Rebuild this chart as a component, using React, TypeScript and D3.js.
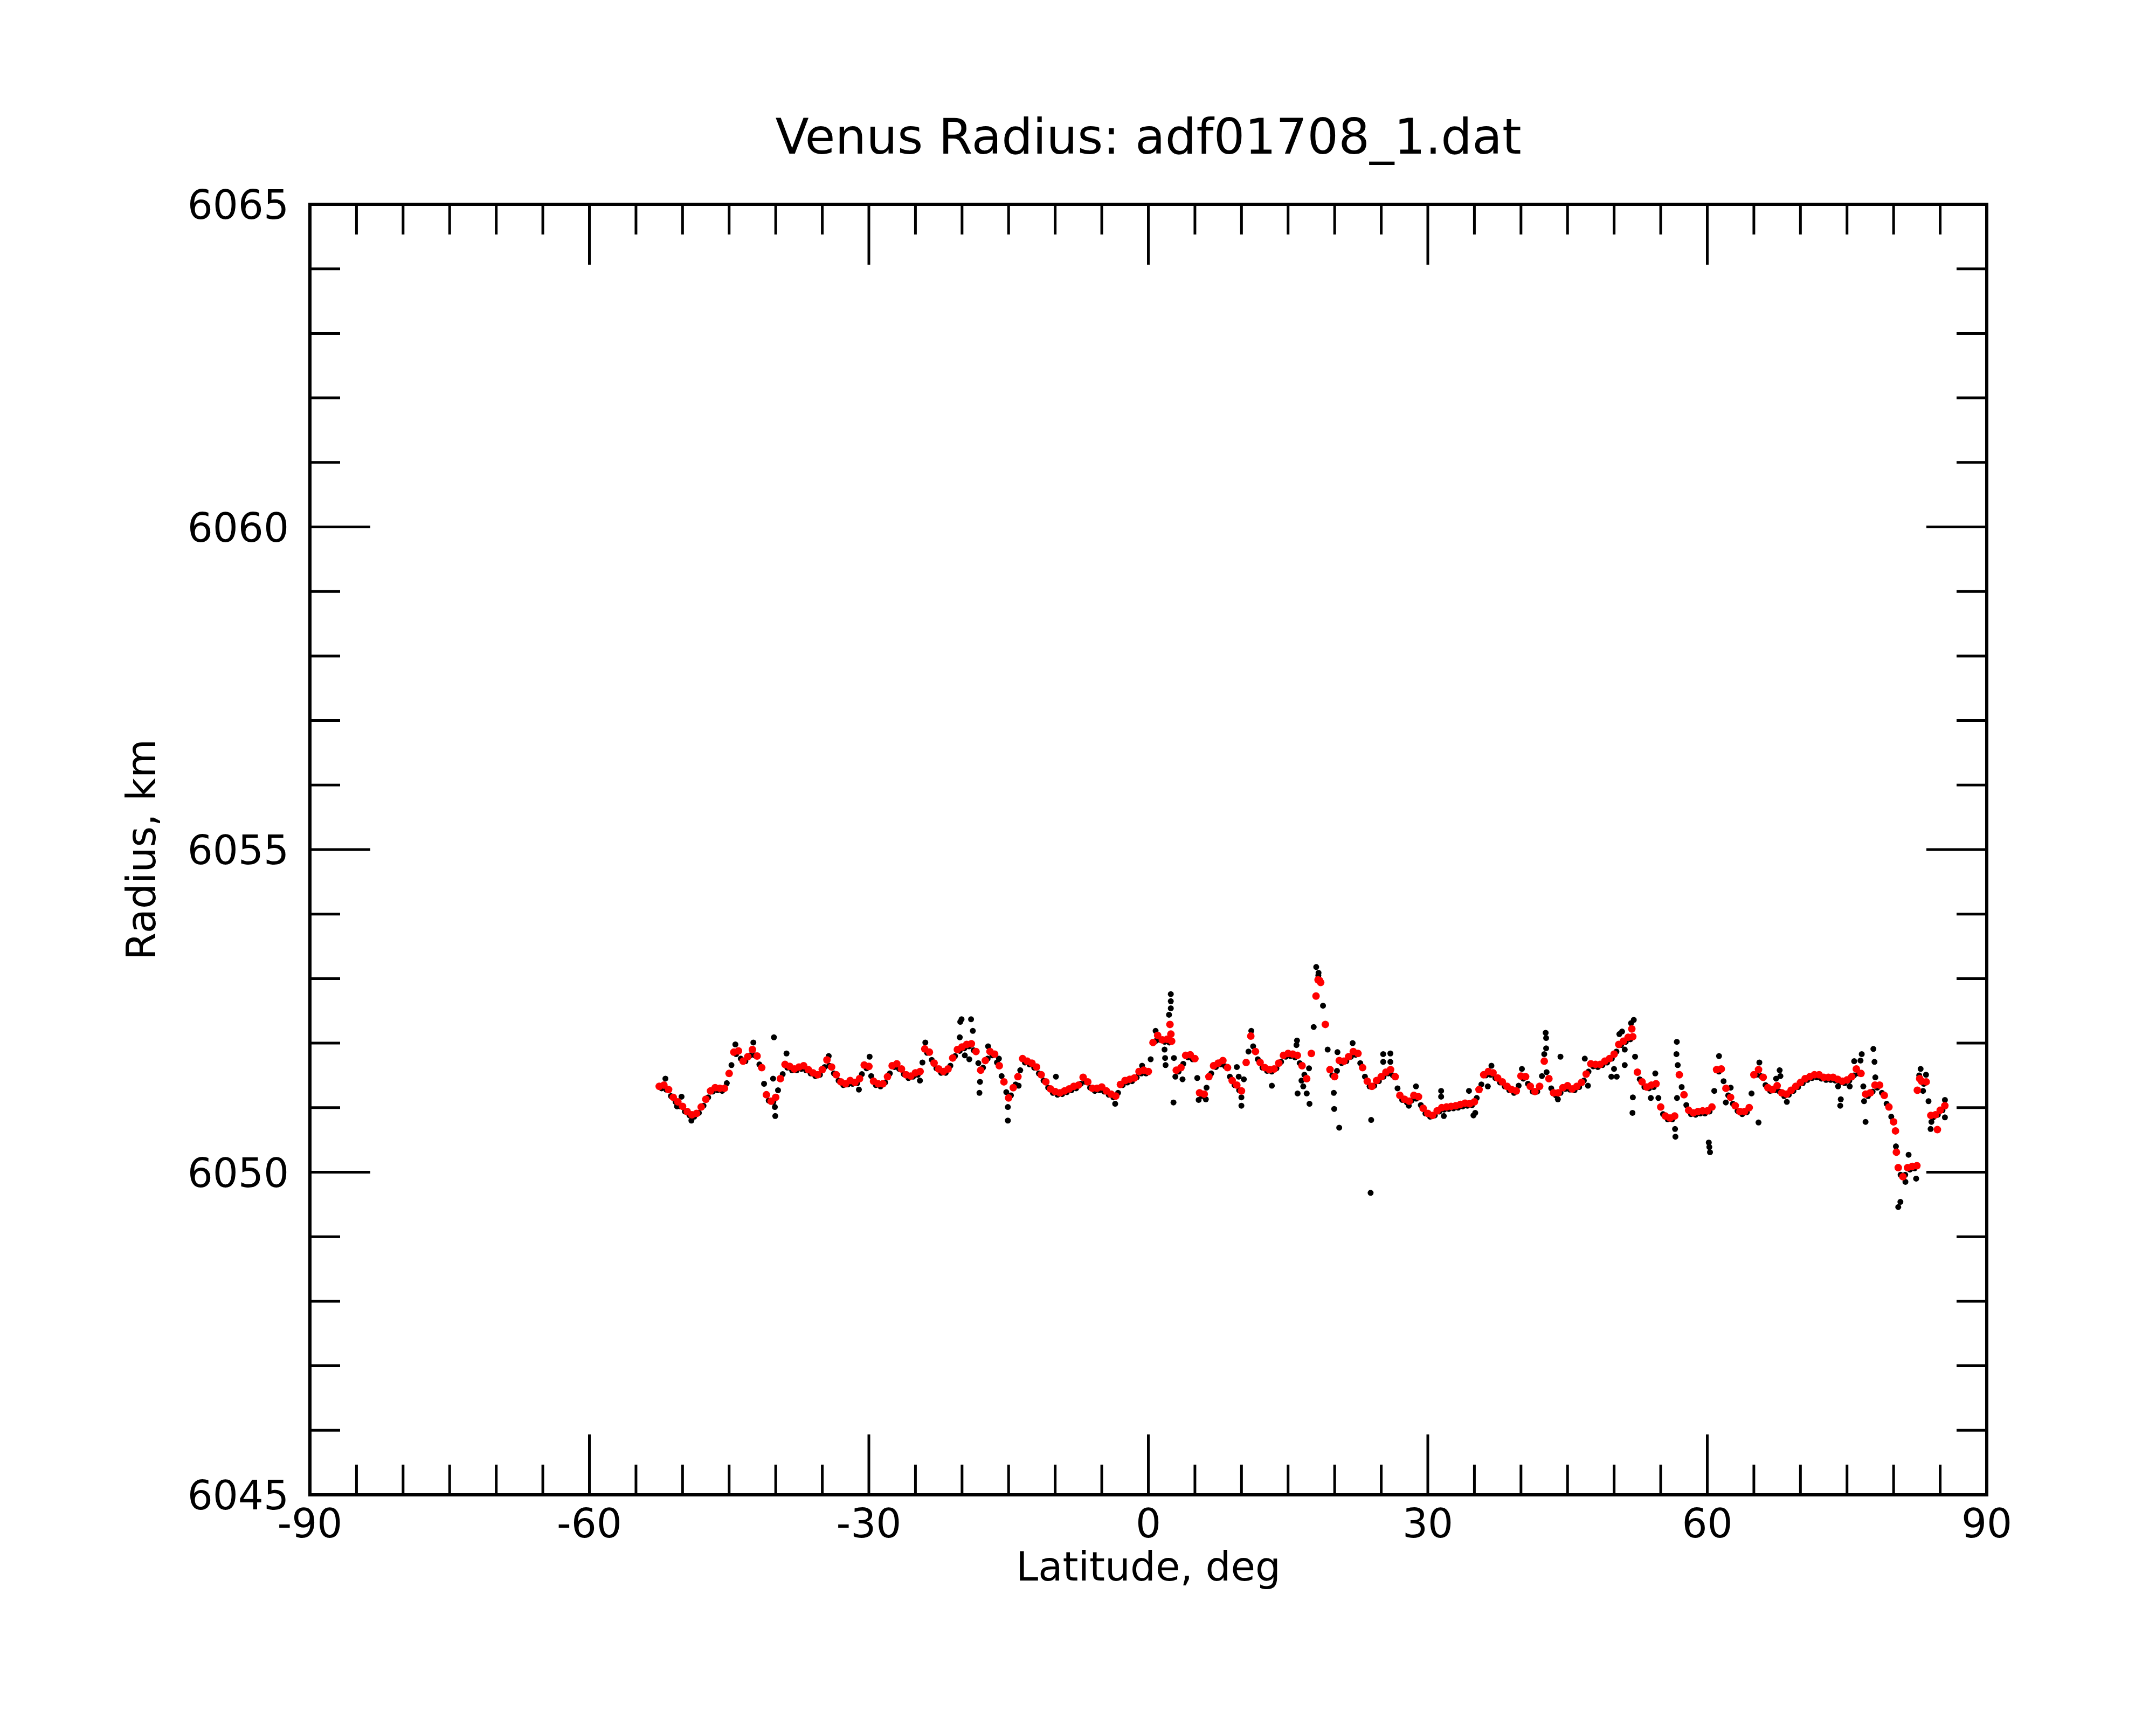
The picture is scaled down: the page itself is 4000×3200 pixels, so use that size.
import * as d3 from 'd3';

const W = 4000;
const H = 3200;
const margin = { top: 379, right: 314, bottom: 427, left: 575 };

const TITLE = 'Venus Radius: adf01708_1.dat';
const X_LABEL = 'Latitude, deg';
const Y_LABEL = 'Radius, km';
const X_TICKS = [-90, -60, -30, 0, 30, 60, 90];
const Y_TICKS = [6045, 6050, 6055, 6060, 6065];

// red: smoothed profile, one value every 0.5 deg starting at -52.5
const RED_START = -52.5;
const RED_STEP = 0.5;
const redRadius = [
  6051.33, 6051.35, 6051.28, 6051.16, 6051.09, 6051.02, 6050.94, 6050.89, 6050.91, 6051.01,
  6051.13, 6051.26, 6051.31, 6051.30, 6051.30, 6051.53, 6051.86, 6051.88, 6051.72, 6051.79,
  6051.90, 6051.80, 6051.62, 6051.20, 6051.10, 6051.16, 6051.45, 6051.67, 6051.64, 6051.60,
  6051.63, 6051.65, 6051.59, 6051.54, 6051.51, 6051.59, 6051.74, 6051.63, 6051.51, 6051.40,
  6051.37, 6051.42, 6051.39, 6051.45, 6051.66, 6051.64, 6051.41, 6051.37, 6051.37, 6051.48,
  6051.65, 6051.68, 6051.60, 6051.51, 6051.49, 6051.54, 6051.56, 6051.91, 6051.86, 6051.69,
  6051.60, 6051.56, 6051.60, 6051.77, 6051.90, 6051.94, 6051.98, 6051.99, 6051.87, 6051.58,
  6051.73, 6051.87, 6051.83, 6051.65, 6051.40, 6051.15, 6051.31, 6051.48, 6051.76, 6051.72,
  6051.69, 6051.63, 6051.51, 6051.40, 6051.29, 6051.25, 6051.23, 6051.26, 6051.29, 6051.33,
  6051.35, 6051.47, 6051.40, 6051.30, 6051.30, 6051.32, 6051.26, 6051.21, 6051.18, 6051.36,
  6051.42, 6051.44, 6051.46, 6051.56, 6051.58, 6051.56, 6052.01, 6052.12, 6052.05, 6052.06,
  6052.03, 6051.58, 6051.62, 6051.81, 6051.82, 6051.76, 6051.23, 6051.21, 6051.48, 6051.65,
  6051.69, 6051.73, 6051.62, 6051.42, 6051.35, 6051.26, 6051.70, 6052.11, 6051.87, 6051.70,
  6051.62, 6051.59, 6051.60, 6051.69, 6051.81, 6051.84, 6051.83, 6051.81, 6051.65, 6051.45,
  6051.84, 6052.73, 6052.94, 6052.29, 6051.59, 6051.48, 6051.73, 6051.72, 6051.79, 6051.87,
  6051.84, 6051.62, 6051.41, 6051.33, 6051.42, 6051.48, 6051.55, 6051.59, 6051.48, 6051.19,
  6051.13, 6051.10, 6051.19, 6051.17, 6050.99, 6050.91, 6050.88, 6050.95, 6051.00, 6051.01,
  6051.02, 6051.03, 6051.05, 6051.07, 6051.06, 6051.09, 6051.28, 6051.51, 6051.56, 6051.54,
  6051.46, 6051.40, 6051.33, 6051.28, 6051.26, 6051.49, 6051.48, 6051.33, 6051.25, 6051.33,
  6051.72, 6051.45, 6051.23, 6051.23, 6051.31, 6051.34, 6051.29, 6051.33, 6051.39, 6051.52,
  6051.68, 6051.67, 6051.67, 6051.72, 6051.76, 6051.83, 6051.98, 6052.03, 6052.09, 6052.10,
  6051.55, 6051.40, 6051.32, 6051.35, 6051.37, 6051.01, 6050.87, 6050.84, 6050.87, 6051.51,
  6051.20, 6050.96, 6050.92, 6050.94, 6050.95, 6050.95, 6051.01, 6051.59, 6051.60, 6051.30,
  6051.16, 6051.03, 6050.94, 6050.94, 6051.00, 6051.51, 6051.59, 6051.47, 6051.31, 6051.28,
  6051.34, 6051.23, 6051.21, 6051.27, 6051.33, 6051.39, 6051.45, 6051.48, 6051.51, 6051.51,
  6051.47, 6051.47, 6051.47, 6051.44, 6051.41, 6051.43, 6051.48, 6051.60, 6051.53, 6051.21,
  6051.23, 6051.35, 6051.35, 6051.19, 6051.01, 6050.78, 6050.07, 6049.93, 6050.07, 6050.09,
  6050.10, 6051.41, 6051.40, 6050.88, 6050.89, 6050.96, 6051.03,
];

// red points off the 0.5 deg grid (narrow peaks and steep drops)
const redExtra: [number, number][] = [
  [2.32, 6052.29], [2.42, 6052.14], [18.22, 6052.98], [18.38, 6052.97], [51.9, 6052.22],
  [80.2, 6050.64], [80.3, 6050.31], [82.55, 6051.27], [82.8, 6051.45], [84.7, 6050.66],
];

// black: raw profile, one value every 0.5 deg starting at -52.25
const BLACK_START = -52.25;
const BLACK_STEP = 0.5;
const blackRadius = [
  6051.30, 6051.28, 6051.18, 6051.09, 6051.02, 6050.94, 6050.88, 6050.86, 6050.92, 6051.03,
  6051.16, 6051.25, 6051.27, 6051.26, 6051.38, 6051.66, 6051.83, 6051.76, 6051.72, 6051.81,
  6051.81, 6051.67, 6051.37, 6051.11, 6051.09, 6051.27, 6051.52, 6051.62, 6051.58, 6051.58,
  6051.60, 6051.58, 6051.53, 6051.49, 6051.51, 6051.63, 6051.65, 6051.53, 6051.42, 6051.35,
  6051.36, 6051.37, 6051.38, 6051.52, 6051.61, 6051.49, 6051.35, 6051.33, 6051.39, 6051.53,
  6051.63, 6051.60, 6051.52, 6051.46, 6051.48, 6051.51, 6051.70, 6051.85, 6051.74, 6051.61,
  6051.54, 6051.54, 6051.65, 6051.80, 6051.88, 6051.92, 6051.95, 6051.89, 6051.69, 6051.62,
  6051.76, 6051.81, 6051.70, 6051.49, 6051.24, 6051.19, 6051.36, 6051.58, 6051.70, 6051.67,
  6051.62, 6051.53, 6051.42, 6051.31, 6051.23, 6051.20, 6051.21, 6051.24, 6051.27, 6051.30,
  6051.37, 6051.40, 6051.31, 6051.26, 6051.27, 6051.25, 6051.20, 6051.16, 6051.23, 6051.35,
  6051.39, 6051.41, 6051.47, 6051.53, 6051.53, 6051.75, 6052.03, 6052.05, 6052.02, 6052.01,
  6051.77, 6051.56, 6051.68, 6051.78, 6051.75, 6051.46, 6051.18, 6051.31, 6051.53, 6051.63,
  6051.67, 6051.64, 6051.48, 6051.35, 6051.27, 6051.44, 6051.87, 6051.95, 6051.75, 6051.62,
  6051.57, 6051.56, 6051.61, 6051.71, 6051.79, 6051.80, 6051.78, 6051.69, 6051.51, 6051.61,
  6052.25, 6053.05, 6052.58, 6051.90, 6051.50, 6051.57, 6051.69, 6051.72, 6051.79, 6051.82,
  6051.69, 6051.48, 6051.33, 6051.34, 6051.41, 6051.48, 6051.53, 6051.50, 6051.30, 6051.12,
  6051.08, 6051.11, 6051.14, 6051.04, 6050.91, 6050.86, 6050.88, 6050.94, 6050.97, 6050.98,
  6050.99, 6051.00, 6051.02, 6051.03, 6051.04, 6051.15, 6051.36, 6051.50, 6051.51, 6051.46,
  6051.39, 6051.33, 6051.27, 6051.23, 6051.34, 6051.45, 6051.37, 6051.25, 6051.25, 6051.49,
  6051.55, 6051.30, 6051.19, 6051.23, 6051.29, 6051.28, 6051.27, 6051.32, 6051.42, 6051.56,
  6051.64, 6051.63, 6051.66, 6051.70, 6051.76, 6051.87, 6051.97, 6052.02, 6052.06, 6051.79,
  6051.44, 6051.32, 6051.30, 6051.32, 6051.15, 6050.90, 6050.82, 6050.82, 6051.15, 6051.32,
  6051.04, 6050.90, 6050.89, 6050.91, 6050.91, 6050.94, 6051.26, 6051.56, 6051.41, 6051.19,
  6051.06, 6050.95, 6050.90, 6050.93, 6051.22, 6051.51, 6051.49, 6051.35, 6051.26, 6051.27,
  6051.25, 6051.18, 6051.20, 6051.26, 6051.32, 6051.38, 6051.43, 6051.46, 6051.47, 6051.45,
  6051.43, 6051.43, 6051.42, 6051.39, 6051.38, 6051.42, 6051.50, 6051.53, 6051.33, 6051.18,
  6051.25, 6051.31, 6051.23, 6051.06, 6050.86, 6050.40, 6049.96, 6049.96, 6050.04, 6050.06,
  6051.50, 6051.37, 6051.10, 6050.85, 6050.89, 6050.96,
];

// scattered raw points away from the smoothed curve [lat, radius]
const blackOutliers: [number, number][] = [
  [-51.84, 6051.45], [-50.11, 6051.17], [-50.59, 6051.02], [-49.05, 6050.80], [-44.33, 6051.98],
  [-42.40, 6052.01], [-40.19, 6052.09], [-40.28, 6051.45], [-40.09, 6051.01], [-40.05, 6050.87],
  [-38.84, 6051.84], [-34.31, 6051.80],
  [-31.07, 6051.28], [-29.92, 6051.79], [-24.52, 6051.42], [-23.94, 6052.01], [-20.24, 6052.09],
  [-20.19, 6052.33], [-20.05, 6052.37], [-19.70, 6051.81], [-19.22, 6051.75], [-19.03, 6052.37],
  [-18.84, 6052.19], [-18.07, 6051.40], [-18.13, 6051.23], [-17.20, 6051.95], [-16.04, 6051.76],
  [-15.08, 6051.01], [-15.08, 6050.80], [-13.92, 6051.34],
  [-9.92, 6051.48], [-3.56, 6051.06], [-0.67, 6051.65], [0.78, 6052.19], [1.74, 6051.90],
  [1.80, 6051.77], [1.85, 6051.66], [2.22, 6052.44], [2.41, 6052.54], [2.41, 6052.65],
  [2.41, 6052.76], [2.70, 6051.08], [2.90, 6051.48], [3.67, 6051.44], [5.40, 6051.12],
  [6.17, 6051.13],
  [9.50, 6051.63], [9.70, 6051.48], [9.99, 6051.16], [9.99, 6051.03], [11.05, 6052.19],
  [13.26, 6051.34], [15.96, 6052.04], [15.90, 6051.97], [16.44, 6051.42], [16.63, 6051.33],
  [16.02, 6051.22], [17.00, 6051.22], [17.30, 6051.06], [18.02, 6053.18], [18.27, 6053.09],
  [19.91, 6051.23], [19.95, 6050.98], [20.49, 6050.69], [20.30, 6051.86], [21.93, 6052.00],
  [23.92, 6050.81], [23.86, 6049.68], [25.21, 6051.83], [25.98, 6051.84], [25.21, 6051.71],
  [25.98, 6051.71],
  [27.96, 6051.03], [28.73, 6051.33], [31.43, 6051.26], [31.43, 6051.17], [31.72, 6050.87],
  [34.42, 6051.26], [34.90, 6050.88], [35.09, 6050.92], [36.44, 6051.33], [36.83, 6051.65],
  [40.10, 6051.60], [42.50, 6051.83], [42.65, 6052.16], [42.70, 6052.08], [42.70, 6051.92],
  [43.96, 6051.13], [44.24, 6051.79], [46.85, 6051.76],
  [47.19, 6051.34], [49.70, 6051.48], [49.99, 6051.60], [50.28, 6051.48], [50.56, 6052.14],
  [50.85, 6052.18], [51.14, 6051.90], [51.14, 6051.66], [51.82, 6052.31], [52.11, 6052.36],
  [52.01, 6051.16], [51.97, 6050.92], [53.94, 6051.15], [54.42, 6051.53], [56.73, 6052.02],
  [56.69, 6051.83], [56.83, 6051.66], [56.54, 6050.67], [56.58, 6050.55], [60.16, 6050.46],
  [60.22, 6050.39], [60.29, 6050.31], [61.26, 6051.80], [61.99, 6051.08], [62.51, 6051.31],
  [65.50, 6050.77], [65.59, 6051.70],
  [67.39, 6051.45], [67.77, 6051.58], [67.85, 6051.49], [68.54, 6051.09], [74.04, 6051.33],
  [74.33, 6051.13], [74.27, 6051.03], [75.29, 6051.33], [75.77, 6051.72], [76.45, 6051.73],
  [76.58, 6051.83], [76.83, 6051.10], [76.99, 6050.78], [77.83, 6051.91], [77.95, 6051.71],
  [78.04, 6051.47], [80.50, 6049.46], [80.73, 6049.54], [81.27, 6049.85], [81.61, 6050.27],
  [82.42, 6049.90], [82.90, 6051.60], [83.48, 6051.51], [83.16, 6051.26], [83.97, 6050.67],
  [84.06, 6050.78], [85.51, 6051.12], [85.51, 6050.85],
];

const FONT = 'DejaVu Sans, sans-serif';
const TICK_FONT = 74;
const TITLE_FONT = 91;
const MAJOR = 112;
const MINOR = 56;
const LW = 5;

export default function App() {
  const x0 = margin.left;
  const x1 = W - margin.right;
  const y0 = margin.top;
  const y1 = H - margin.bottom;

  const x = d3.scaleLinear().domain([-90, 90]).range([x0, x1]);
  const y = d3.scaleLinear().domain([6045, 6065]).range([y1, y0]);

  const xMinor = d3.range(-85, 90, 5).filter(v => v % 30 !== 0);
  const yMinor = d3.range(6046, 6065, 1).filter(v => v % 5 !== 0);
  const xMajorInner = X_TICKS.slice(1, -1);
  const yMajorInner = Y_TICKS.slice(1, -1);

  const redPts = redRadius.map((r, i) => [RED_START + i * RED_STEP, r] as [number, number]).concat(redExtra);
  const blackPts = blackRadius.map((r, i) => [BLACK_START + i * BLACK_STEP, r] as [number, number]).concat(blackOutliers);

  const cx = (x0 + x1) / 2;
  const cy = (y0 + y1) / 2;

  return (
    <svg width={W} height={H} style={{ position: 'absolute', left: 0, top: 0, background: '#fff' }}>
      <rect width={W} height={H} fill="#fff" />

      {/* data: black raw first, red smoothed on top */}
      <g fill="#000">
        {blackPts.map((d, i) => (
          <circle key={i} cx={x(d[0])} cy={y(d[1])} r={5.5} />
        ))}
      </g>
      <g fill="#ff0000">
        {redPts.map((d, i) => (
          <circle key={i} cx={x(d[0])} cy={y(d[1])} r={7} />
        ))}
      </g>

      {/* ticks */}
      <g stroke="#000" strokeWidth={LW}>
        {xMinor.map(v => (
          <g key={`xm${v}`}>
            <line x1={x(v)} x2={x(v)} y1={y1} y2={y1 - MINOR} />
            <line x1={x(v)} x2={x(v)} y1={y0} y2={y0 + MINOR} />
          </g>
        ))}
        {xMajorInner.map(v => (
          <g key={`xM${v}`}>
            <line x1={x(v)} x2={x(v)} y1={y1} y2={y1 - MAJOR} />
            <line x1={x(v)} x2={x(v)} y1={y0} y2={y0 + MAJOR} />
          </g>
        ))}
        {yMinor.map(v => (
          <g key={`ym${v}`}>
            <line x1={x0} x2={x0 + MINOR} y1={y(v)} y2={y(v)} />
            <line x1={x1} x2={x1 - MINOR} y1={y(v)} y2={y(v)} />
          </g>
        ))}
        {yMajorInner.map(v => (
          <g key={`yM${v}`}>
            <line x1={x0} x2={x0 + MAJOR} y1={y(v)} y2={y(v)} />
            <line x1={x1} x2={x1 - MAJOR} y1={y(v)} y2={y(v)} />
          </g>
        ))}
      </g>

      {/* frame */}
      <rect x={x0} y={y0} width={x1 - x0} height={y1 - y0} fill="none" stroke="#000" strokeWidth={6} />

      {/* tick labels */}
      <g fontFamily={FONT} fontSize={TICK_FONT} fill="#000">
        {X_TICKS.map(v => (
          <text key={`xl${v}`} x={x(v)} y={y1 + 79} textAnchor="middle">{v}</text>
        ))}
        {Y_TICKS.map(v => (
          <text key={`yl${v}`} x={x0 - 39} y={y(v) + 27} textAnchor="end">{v}</text>
        ))}
      </g>

      <text x={cx} y={y1 + 159} textAnchor="middle" fontFamily={FONT} fontSize={TICK_FONT}>{X_LABEL}</text>
      <text transform={`translate(288, ${cy}) rotate(-90)`} textAnchor="middle" fontFamily={FONT} fontSize={TICK_FONT}>{Y_LABEL}</text>
      <text x={cx} y={285} textAnchor="middle" fontFamily={FONT} fontSize={TITLE_FONT}>{TITLE}</text>
    </svg>
  );
}
